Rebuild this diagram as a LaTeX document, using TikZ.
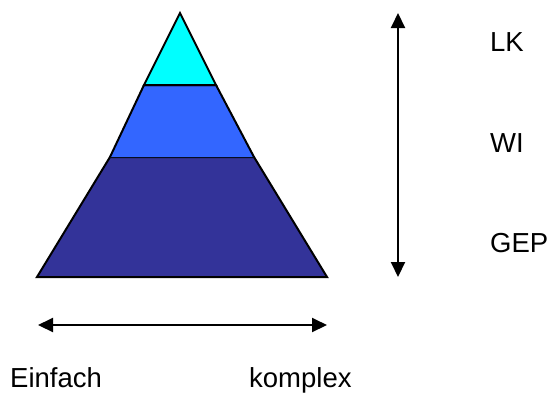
\documentclass[tikz,border=0pt]{standalone}
\usepackage{fontspec}
\setmainfont{Liberation Sans}
\usetikzlibrary{arrows.meta,positioning,calc}
\definecolor{top}{HTML}{00FFFF}
\definecolor{mid}{HTML}{3366FF}
\definecolor{low}{HTML}{333399}
\tikzset{band/.style={draw=black,line width=2bp,line join=miter},arrow/.style={{Triangle[length=15bp,width=14bp]}-{Triangle[length=15bp,width=14bp]},line width=2bp},lab/.style={anchor=base west,inner sep=0pt,font=\fontsize{27.5bp}{33bp}\selectfont}}
\begin{document}
\begin{tikzpicture}[x=1bp,y=-1bp]
\useasboundingbox (0,0) rectangle (551,392);
\fill[low] (37,277)--(110,157)--(254,157)--(327,277)--cycle;
\draw[band] (37,277)--(110,157)--(254,157)--(327,277)--cycle;
\fill[mid] (110,157)--(144,85)--(216,85)--(254,157)--cycle;
\draw[band] (110,157)--(144,85)--(216,85)--(254,157);
\fill[top] (144,85)--(180,13)--(216,85)--cycle;
\draw[band] (144,85)--(180,13)--(216,85)--cycle;
\coordinate (vt) at (398,13);\coordinate (vb) at (398,277);
\coordinate (hl) at (38,325);\coordinate (hr) at (327,325);
\draw[arrow](vt)--(vb);
\draw[arrow](hl)--(hr);
\node[lab] (lk) at (490,51) {LK};
\node[lab] (wi) at (490,152) {WI};
\node[lab] (gep) at (490,252) {GEP};
\node[lab] (einfach) at (10,387) {Einfach};
\node[lab] (komplex) at (249,387) {komplex};
\end{tikzpicture}
\end{document}
